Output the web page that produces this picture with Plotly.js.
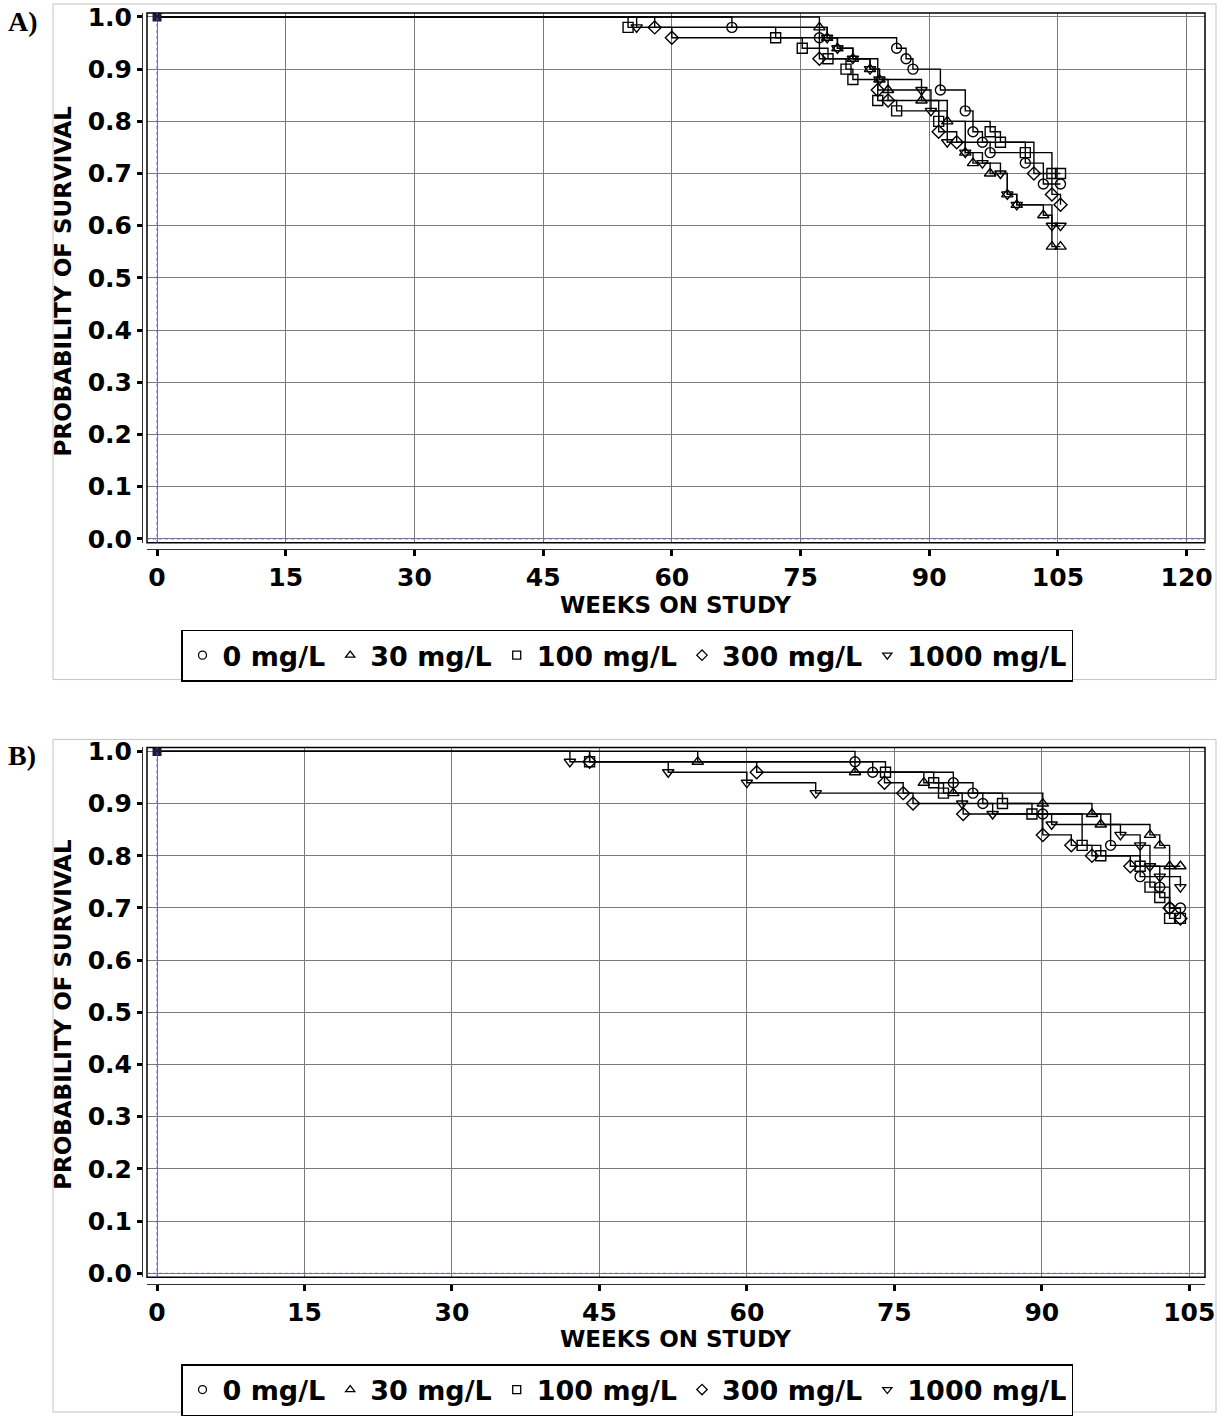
<!DOCTYPE html>
<html>
<head>
<meta charset="utf-8">
<script src="https://cdn.plot.ly/plotly-3.0.1.min.js"></script>
<style>html,body{margin:0;padding:0;background:#fff;}#chart{width:1229px;height:1416px;}</style>
</head>
<body>
<div id="chart"></div>
<script>
// ---------- data ----------
const groups = ["0 mg/L", "30 mg/L", "100 mg/L", "300 mg/L", "1000 mg/L"];
const symbols = ["circle-open", "triangle-up-open", "square-open", "diamond-open", "triangle-down-open"];
const startWeek = [0];
const startSurv = [1.0];

// Panel A
const aWeeks0 = [67, 77.2, 86.2, 87.3, 88.1, 91.3, 94.2, 95.1, 96.2, 97.1, 101.2, 103.3, 105.3];
const aSurv0  = [0.98, 0.96, 0.94, 0.92, 0.90, 0.86, 0.82, 0.78, 0.76, 0.74, 0.72, 0.68, 0.68];
const aWeeks30 = [77.2, 78.1, 79.3, 81.1, 83.1, 84.2, 85.2, 89.1, 92.1, 94.2, 95.1, 97.1, 99.1, 100.2, 103.3, 104.3, 105.3];
const aSurv30  = [0.98, 0.96, 0.94, 0.92, 0.90, 0.88, 0.86, 0.84, 0.80, 0.74, 0.72, 0.70, 0.66, 0.64, 0.62, 0.56, 0.56];
const aWeeks100 = [54.9, 72.1, 75.2, 78.2, 80.3, 81.1, 84.0, 86.2, 91.1, 97.1, 98.3, 101.2, 104.3, 105.3];
const aSurv100  = [0.98, 0.96, 0.94, 0.92, 0.90, 0.88, 0.84, 0.82, 0.80, 0.78, 0.76, 0.74, 0.70, 0.70];
const aWeeks300 = [58.0, 60.0, 77.2, 84.0, 85.2, 91.1, 93.2, 102.2, 104.3, 105.3];
const aSurv300  = [0.98, 0.96, 0.92, 0.86, 0.84, 0.78, 0.76, 0.70, 0.66, 0.64];
const aWeeks1000 = [55.9, 78.1, 79.3, 81.1, 83.1, 84.2, 89.1, 90.2, 92.1, 94.2, 96.2, 98.3, 99.1, 100.2, 104.3, 105.3];
const aSurv1000  = [0.98, 0.96, 0.94, 0.92, 0.90, 0.88, 0.86, 0.82, 0.76, 0.74, 0.72, 0.70, 0.66, 0.64, 0.60, 0.60];

// Panel B
const bWeeks0 = [71.0, 72.8, 81.0, 83.0, 84.0, 90.1, 97.0, 100.0, 102.0, 103.0, 104.1];
const bSurv0  = [0.98, 0.96, 0.94, 0.92, 0.90, 0.88, 0.82, 0.76, 0.74, 0.70, 0.70];
const bWeeks30 = [55.0, 71.0, 78.0, 81.0, 90.1, 95.1, 96.0, 101.0, 102.0, 103.0, 104.1];
const bSurv30  = [0.98, 0.96, 0.94, 0.92, 0.90, 0.88, 0.86, 0.84, 0.82, 0.78, 0.78];
const bWeeks100 = [44.0, 74.1, 79.0, 80.0, 86.0, 89.0, 94.1, 96.0, 100.0, 101.0, 102.0, 103.0, 104.1];
const bSurv100  = [0.98, 0.96, 0.94, 0.92, 0.90, 0.88, 0.82, 0.80, 0.78, 0.74, 0.72, 0.68, 0.68];
const bWeeks300 = [44.0, 61.0, 74.0, 75.9, 76.9, 82.0, 90.1, 93.0, 95.1, 99.0, 103.0, 104.1];
const bSurv300  = [0.98, 0.96, 0.94, 0.92, 0.90, 0.88, 0.84, 0.82, 0.80, 0.78, 0.70, 0.68];
const bWeeks1000 = [42.0, 52.0, 60.0, 67.0, 81.9, 85.0, 91.0, 98.0, 100.0, 101.0, 102.0, 104.1];
const bSurv1000  = [0.98, 0.96, 0.94, 0.92, 0.90, 0.88, 0.86, 0.84, 0.82, 0.78, 0.76, 0.74];

const aTicksX = [0, 15, 30, 45, 60, 75, 90, 105, 120];
const bTicksX = [0, 15, 30, 45, 60, 75, 90, 105];
const ticksY = [0, 0.1, 0.2, 0.3, 0.4, 0.5, 0.6, 0.7, 0.8, 0.9, 1.0];
const ticksYText = ["0.0","0.1","0.2","0.3","0.4","0.5","0.6","0.7","0.8","0.9","1.0"];

// ---------- layout helpers ----------
const W = 1229, H = 1416;
const px = v => v / W;
const py = v => 1 - v / H;
const FONT = "DejaVu Sans, Verdana, sans-serif";

const aW = [aWeeks0, aWeeks30, aWeeks100, aWeeks300, aWeeks1000];
const aS = [aSurv0, aSurv30, aSurv100, aSurv300, aSurv1000];
const bW = [bWeeks0, bWeeks30, bWeeks100, bWeeks300, bWeeks1000];
const bS = [bSurv0, bSurv30, bSurv100, bSurv300, bSurv1000];

const traces = [];
function addPanel(weeks, surv, xa, ya, legendId) {
  for (let i = 0; i < groups.length; i++) {
    traces.push({
      x: startWeek.concat(weeks[i]), y: startSurv.concat(surv[i]),
      xaxis: xa, yaxis: ya, mode: "lines", type: "scatter",
      line: {shape: "hv", color: "#000", width: 1.4},
      showlegend: false, hoverinfo: "skip"
    });
  }
  for (let i = 0; i < groups.length; i++) {
    traces.push({
      x: weeks[i], y: surv[i], xaxis: xa, yaxis: ya,
      mode: "markers", type: "scatter", name: groups[i],
      marker: {symbol: symbols[i], size: 10, color: "#000", line: {width: 1.4, color: "#000"}},
      showlegend: false
    });
  }
  // legend entries (smaller symbols, as in the original key)
  for (let i = 0; i < groups.length; i++) {
    traces.push({
      x: [null], y: [null], xaxis: xa, yaxis: ya,
      mode: "markers", type: "scatter", name: groups[i], legend: legendId,
      marker: {symbol: symbols[i], size: 8, color: "#000", line: {width: 1.3, color: "#000"}},
      showlegend: true
    });
  }
  traces.push({
    x: startWeek, y: startSurv, xaxis: xa, yaxis: ya, mode: "markers", type: "scatter",
    marker: {symbol: "square", size: 9, color: "#1a1a3a"}, showlegend: false, hoverinfo: "skip"
  });
}
addPanel(aW, aS, "x", "y", "legend");
addPanel(bW, bS, "x2", "y2", "legend2");

const tickFont = {family: FONT, size: 25, color: "#000", weight: "bold"};
function xAxis(domain, range, ticks, pos) {
  return {
    domain: domain, range: range, tickvals: ticks, ticktext: ticks.map(String),
    anchor: "free", position: pos, showline: true, linecolor: "#333", linewidth: 1.2,
    ticks: "outside", ticklen: 6, tickwidth: 3, tickcolor: "#000",
    showgrid: true, gridcolor: "#7a7a7a", gridwidth: 1, zeroline: false,
    tickfont: tickFont, fixedrange: true
  };
}
function yAxis(domain, pos) {
  return {
    domain: domain, range: [-0.0076, 1.0076], tickvals: ticksY, ticktext: ticksYText,
    anchor: "free", position: pos, showline: true, linecolor: "#333", linewidth: 1.2,
    ticks: "outside", ticklen: 5, tickwidth: 3, tickcolor: "#000",
    showgrid: true, gridcolor: "#7a7a7a", gridwidth: 1, zeroline: false,
    tickfont: tickFont, fixedrange: true
  };
}

const legendBase = {
  orientation: "h", xanchor: "center", yanchor: "middle",
  bordercolor: "#000", borderwidth: 1.5, bgcolor: "#fff",
  font: {family: FONT, size: 27, color: "#000", weight: "bold"},
  itemclick: false, itemdoubleclick: false
};

const titleFont = {family: FONT, size: 23, color: "#000", weight: "bold"};

const layout = {
  width: W, height: H, autosize: false,
  margin: {l: 0, r: 0, t: 0, b: 0},
  paper_bgcolor: "#fff", plot_bgcolor: "#fff",
  font: {family: FONT, color: "#000"},
  xaxis: xAxis([px(147), px(1205)], [-1.17, 122.14], aTicksX, py(550)),
  yaxis: yAxis([py(544), py(13)], px(142)),
  xaxis2: xAxis([px(147), px(1205)], [-1.02, 106.6], bTicksX, py(1287)),
  yaxis2: yAxis([py(1280), py(749)], px(142)),
  legend: Object.assign({}, legendBase, {x: px(627), y: py(657)}),
  legend2: Object.assign({}, legendBase, {x: px(627), y: py(1393)}),
  shapes: [
    {type: "rect", xref: "paper", yref: "paper", x0: px(53), x1: px(1216), y0: py(681), y1: py(4), line: {color: "#c4c4c4", width: 1}},
    {type: "rect", xref: "paper", yref: "paper", x0: px(53), x1: px(1216), y0: py(1415), y1: py(741), line: {color: "#c4c4c4", width: 1}},
    {type: "rect", xref: "x domain", yref: "y domain", x0: 0, x1: 1, y0: 0, y1: 1, line: {color: "#000", width: 1.5}},
    {type: "rect", xref: "x2 domain", yref: "y2 domain", x0: 0, x1: 1, y0: 0, y1: 1, line: {color: "#000", width: 1.5}},
    {type: "line", xref: "x", yref: "y domain", x0: 0, x1: 0, y0: 0, y1: 1, line: {color: "#5a5aff", width: 1, dash: "dot"}},
    {type: "line", xref: "x domain", yref: "y", x0: 0, x1: 1, y0: 0, y1: 0, line: {color: "#5a5aff", width: 1, dash: "dot"}},
    {type: "line", xref: "x2", yref: "y2 domain", x0: 0, x1: 0, y0: 0, y1: 1, line: {color: "#5a5aff", width: 1, dash: "dot"}},
    {type: "line", xref: "x2 domain", yref: "y2", x0: 0, x1: 1, y0: 0, y1: 0, line: {color: "#5a5aff", width: 1, dash: "dot"}}
  ],
  annotations: [
    {text: "A)", xref: "paper", yref: "paper", x: px(6), y: py(22), xanchor: "left", yanchor: "middle", showarrow: false,
     font: {family: "Liberation Serif, Times New Roman, serif", size: 28, color: "#000", weight: "bold"}},
    {text: "B)", xref: "paper", yref: "paper", x: px(6), y: py(757), xanchor: "left", yanchor: "middle", showarrow: false,
     font: {family: "Liberation Serif, Times New Roman, serif", size: 28, color: "#000", weight: "bold"}},
    {text: "WEEKS ON STUDY", xref: "paper", yref: "paper", x: px(675), y: py(606), xanchor: "center", yanchor: "middle", showarrow: false, font: titleFont},
    {text: "WEEKS ON STUDY", xref: "paper", yref: "paper", x: px(675), y: py(1342), xanchor: "center", yanchor: "middle", showarrow: false, font: titleFont},
    {text: "PROBABILITY OF SURVIVAL", xref: "paper", yref: "paper", x: px(63), y: py(282), xanchor: "center", yanchor: "middle", showarrow: false, textangle: -90, font: titleFont},
    {text: "PROBABILITY OF SURVIVAL", xref: "paper", yref: "paper", x: px(63), y: py(1017), xanchor: "center", yanchor: "middle", showarrow: false, textangle: -90, font: titleFont}
  ]
};

Plotly.newPlot("chart", traces, layout, {staticPlot: true, displayModeBar: false});
</script>
</body>
</html>
